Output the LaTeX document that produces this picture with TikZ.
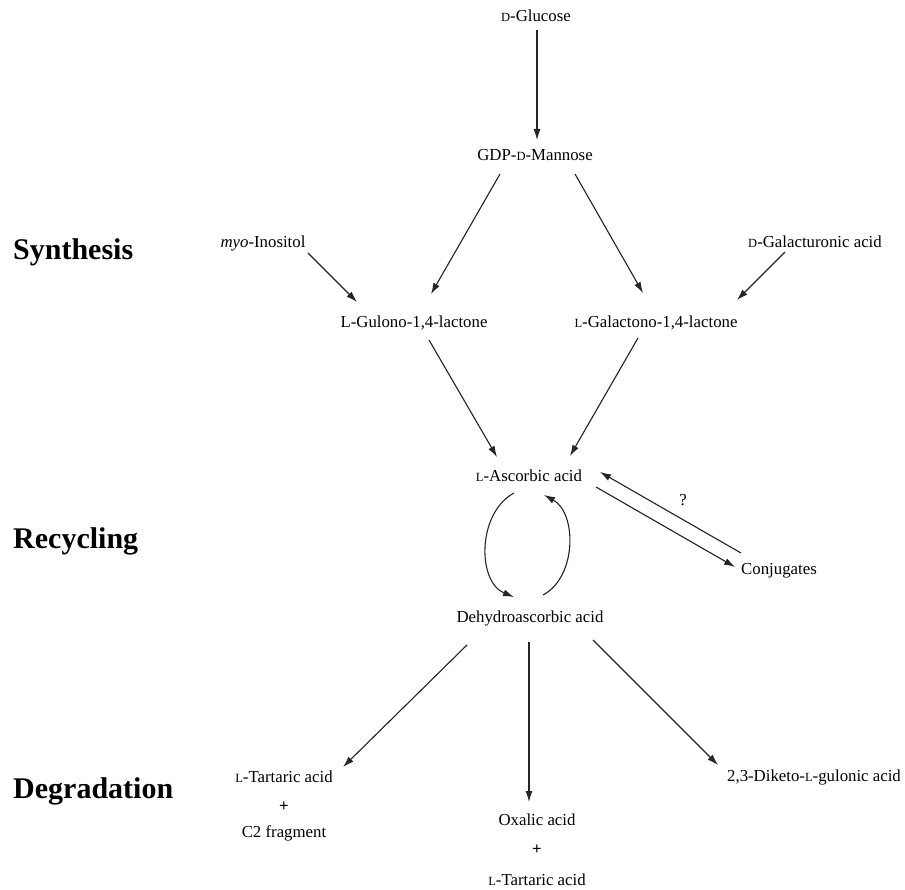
\documentclass[tikz,border=0pt]{standalone}
\usepackage{fontspec}
\setmainfont{Liberation Serif}
\usetikzlibrary{calc,arrows.meta}
\newcommand\smcap[1]{{\fontsize{12.5pt}{12pt}\selectfont #1}}
\begin{document}
\begin{tikzpicture}[x=1pt,y=-1pt,
  lbl/.style={anchor=base,inner sep=0pt,font=\fontsize{16.8pt}{20pt}\selectfont},
  sect/.style={anchor=base west,inner sep=0pt,font=\fontsize{30pt}{34pt}\selectfont\bfseries},
  arr/.style={-{Latex[length=11pt,width=7pt]},line width=1.1pt,draw=black!85,fill=black}]
\useasboundingbox[fill=white] (0,0) rectangle (905,890);

% section labels
\node[sect] (syn) at (13,260) {Synthesis};
\node[sect] (rec) at (13,548) {Recycling};
\node[sect] (deg) at (13,798) {Degradation};

% compounds
\node[lbl] (glc)  at (536,22)  {\smcap{D}-Glucose};
\node[lbl] (gdp)  at (535,161) {GDP-\smcap{D}-Mannose};
\node[lbl] (myo)  at (263,248) {\textit{myo}-Inositol};
\node[lbl] (gala) at (815,248) {\smcap{D}-Galacturonic acid};
\node[lbl] (gul)  at (414,328) {L-Gulono-1,4-lactone};
\node[lbl] (gal)  at (656,328) {\smcap{L}-Galactono-1,4-lactone};
\node[lbl] (asc)  at (529,481) {\smcap{L}-Ascorbic acid};
\node[lbl] (conj) at (779,574) {Conjugates};
\node[lbl] (q)    at (683,505) {?};
\node[lbl] (dha)  at (530,622) {Dehydroascorbic acid};
\node[lbl] (tar1) at (284,782) {\smcap{L}-Tartaric acid};
\node[lbl] (pl1)  at (284,811) {\textbf{+}};
\node[lbl] (c2)   at (284,837) {C2 fragment};
\node[lbl] (ox)   at (537,825) {Oxalic acid};
\node[lbl] (pl2)  at (537,854) {\textbf{+}};
\node[lbl] (tar2) at (537,885) {\smcap{L}-Tartaric acid};
\node[lbl] (dkg)  at (814,781) {2,3-Diketo-\smcap{L}-gulonic acid};

% synthesis arrows
\draw[arr] ($(glc.base)+(1,8)$) -- ($(gdp.base)+(2,-21)$);
\draw[arr] ($(gdp.base)+(-35,13)$) -- ($(gul.base)+(17,-34)$);
\draw[arr] ($(gdp.base)+(40,13)$) -- ($(gal.base)+(-13,-35)$);
\draw[arr] ($(myo.base)+(45,5)$) -- ($(gul.base)+(-57,-26)$);
\draw[arr] ($(gala.base)+(-30,4)$) -- ($(gal.base)+(81,-28)$);
\draw[arr] ($(gul.base)+(15,12)$) -- ($(asc.base)+(-32,-24)$);
\draw[arr] ($(gal.base)+(-18,10)$) -- ($(asc.base)+(41,-25)$);

% conjugates
\draw[arr] ($(asc.base)+(67,6)$) -- ($(conj.base)+(-44,-7)$);
\draw[arr] ($(conj.base)+(-38,-21)$) -- ($(asc.base)+(71,-9)$);

% recycling loop
\draw[arr,fill=none] ($(asc.base)+(-15,12)$) .. controls ($(asc.base)+(-52,32)$) and ($(dha.base)+(-53,-40)$) .. ($(dha.base)+(-16,-25)$);
\draw[arr,fill=none] ($(dha.base)+(13,-27)$) .. controls ($(dha.base)+(47,-45)$) and ($(asc.base)+(48,32)$) .. ($(asc.base)+(15,14)$);

% degradation
\draw[arr] ($(dha.base)+(-63,23)$) -- ($(tar1.base)+(59,-15)$);
\draw[arr] ($(dha.base)+(-1,20)$) -- ($(ox.base)+(-8,-23)$);
\draw[arr] ($(dha.base)+(63,18)$) -- ($(dkg.base)+(-96,-16)$);
\end{tikzpicture}
\end{document}
